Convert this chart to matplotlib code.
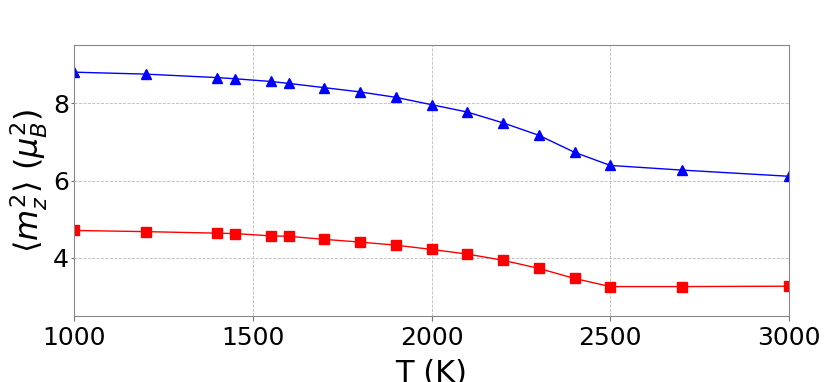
import numpy as np
import matplotlib
matplotlib.use('Agg')
import matplotlib.pyplot as plt

# temperatures (K)
T = [1000, 1200, 1400, 1450, 1550, 1600, 1700, 1800, 1900, 2000,
     2100, 2200, 2300, 2400, 2500, 2700, 3000]
# <m_z^2> upper series (blue triangles)
m2_blue = [8.80, 8.75, 8.66, 8.63, 8.56, 8.51, 8.40, 8.29, 8.15, 7.96,
           7.77, 7.49, 7.17, 6.73, 6.39, 6.27, 6.11]
# <m_z^2> lower series (red squares)
m2_red = [4.71, 4.68, 4.64, 4.63, 4.57, 4.56, 4.48, 4.41, 4.33, 4.22,
          4.10, 3.94, 3.73, 3.47, 3.26, 3.26, 3.27]
yticks = [4, 6, 8]

fig = plt.figure(figsize=(8.3, 3.82), dpi=100)
ax = fig.add_axes([0.0892, 0.1728, 0.8614, 0.7092])

ax.plot(T, m2_blue, '-^', color='b', lw=1.0, ms=7)
ax.plot(T, m2_red, '-s', color='r', lw=1.0, ms=6.5)

ax.set_xlim(1000, 3000)
ax.set_ylim(2.5, 9.5)
ax.set_xticks([1000, 1500, 2000, 2500, 3000])
ax.set_yticks(yticks)
ax.grid(True, ls='--', lw=0.6, color='#bbbbbb')
ax.tick_params(labelsize=18, color='#777777')
ax.tick_params(axis='y', length=2, pad=1.5)
for s in ax.spines.values():
    s.set_color('#888888')

ax.set_xlabel('T (K)', fontsize=22, labelpad=7)
ax.set_ylabel(r'$\langle m_z^2\rangle\ (\mu_B^2)$', fontsize=23, labelpad=2)

fig.savefig('out.png', dpi=100)
